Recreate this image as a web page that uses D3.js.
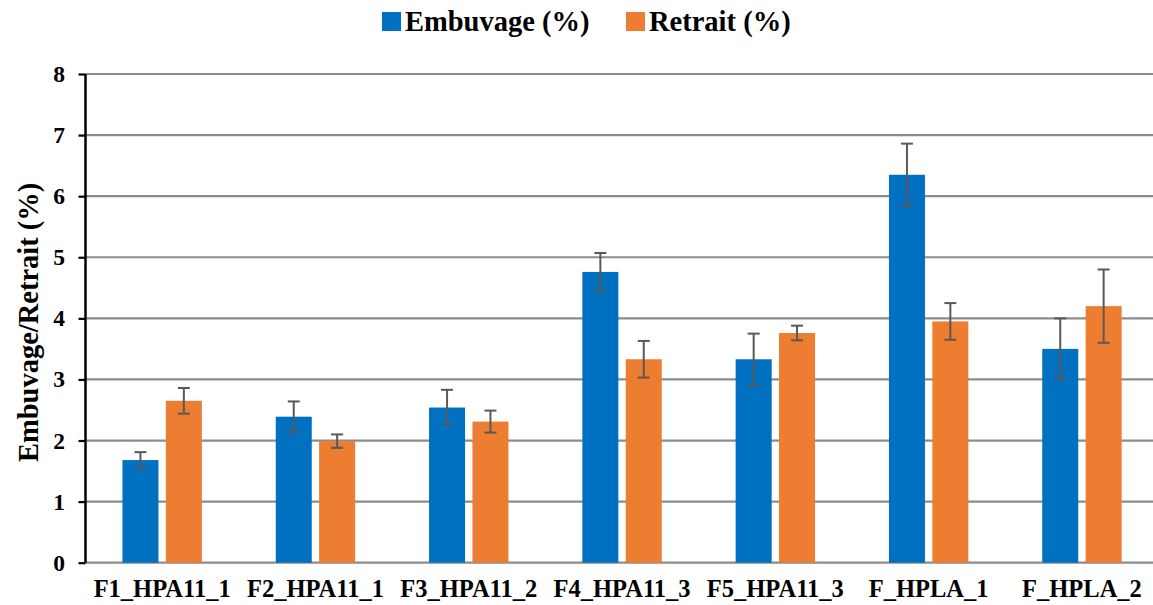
<!DOCTYPE html>
<html><head><meta charset="utf-8">
<script src="https://cdn.jsdelivr.net/npm/d3@7"></script>
<style>body{margin:0;background:#fff;}svg{display:block;}</style>
</head><body><svg id="c" width="1153" height="605"></svg>
<script>
const categories = ["F1_HPA11_1","F2_HPA11_1","F3_HPA11_2","F4_HPA11_3","F5_HPA11_3","F_HPLA_1","F_HPLA_2"];
const embuvage = [1.68, 2.39, 2.54, 4.76, 3.33, 6.35, 3.50];
const embuvageErr = [0.13, 0.25, 0.29, 0.31, 0.42, 0.51, 0.50];
const retrait = [2.65, 1.99, 2.31, 3.33, 3.76, 3.95, 4.20];
const retraitErr = [0.21, 0.11, 0.18, 0.30, 0.12, 0.30, 0.60];
const seriesNames = ["Embuvage (%)", "Retrait (%)"];
const colors = ["#0070C0", "#ED7D31"];
const yTicks = [0,1,2,3,4,5,6,7,8];

const FONT = "Liberation Serif";
const svg = d3.select("#c");
const mLeft = 85.5, mTop = 74, mBottom = 562.7;
const band = 153.3;
const x = d3.scaleBand().domain(categories).range([mLeft, mLeft + band*categories.length]).paddingInner(0.482).paddingOuter(0.241);
const xs = d3.scaleBand().domain([0,1]).range([0, x.bandwidth()]).paddingInner(0.17);
const y = d3.scaleLinear().domain([0,8]).range([mBottom, mTop]);

// gridlines
svg.append("g").selectAll("line").data(yTicks).join("line")
  .attr("x1", mLeft).attr("x2", 1153)
  .attr("y1", d => y(d)).attr("y2", d => y(d))
  .attr("stroke", "#8c8c8c").attr("stroke-width", 2.2);

const data = [
  {vals: embuvage, errs: embuvageErr},
  {vals: retrait, errs: retraitErr}
];
data.forEach((s, si) => {
  const g = svg.append("g");
  g.selectAll("rect").data(categories).join("rect")
    .attr("x", c => x(c) + xs(si))
    .attr("width", xs.bandwidth())
    .attr("y", (c,i) => y(s.vals[i]))
    .attr("height", (c,i) => y(0) - y(s.vals[i]))
    .attr("fill", colors[si]);
});
data.forEach((s, si) => {
  const g = svg.append("g").attr("stroke", "#595959").attr("stroke-width", 2);
  categories.forEach((c,i) => {
    const cx = x(c) + xs(si) + xs.bandwidth()/2;
    const t = y(s.vals[i] + s.errs[i]), b = y(s.vals[i] - s.errs[i]);
    g.append("line").attr("x1", cx).attr("x2", cx).attr("y1", t).attr("y2", b);
    g.append("line").attr("x1", cx-6).attr("x2", cx+6).attr("y1", t).attr("y2", t);
    g.append("line").attr("x1", cx-6).attr("x2", cx+6).attr("y1", b).attr("y2", b);
  });
});

// y axis
const yAxis = svg.append("g").attr("transform", `translate(${mLeft},0)`)
  .call(d3.axisLeft(y).tickValues(yTicks).tickSize(7).tickPadding(13.5).tickFormat(d3.format("d")));
yAxis.select(".domain").attr("stroke", "#000").attr("stroke-width", 2.5).attr("d", `M0,${y(8)}V${y(0)}`);
yAxis.selectAll(".tick line").attr("stroke", "#000").attr("stroke-width", 2.2);
yAxis.selectAll("text").attr("font-size", 23.5).attr("fill", "#000")
  .style("font-family", FONT).style("font-weight", "bold");

// x axis labels
const xAxis = svg.append("g").attr("transform", `translate(0,${mBottom})`)
  .call(d3.axisBottom(x).tickSize(0).tickPadding(17));
xAxis.select(".domain").remove();
xAxis.selectAll("text").attr("font-size", 24.5).attr("fill", "#000")
  .style("font-family", FONT).style("font-weight", "bold");

// y title
svg.append("text").attr("transform", `translate(38,${(mTop+mBottom)/2 + 4}) rotate(-90)`)
  .attr("text-anchor", "middle").attr("font-size", 28.5)
  .style("font-family", FONT).style("font-weight", "bold").text("Embuvage/Retrait (%)");

// legend
const legX = [382, 626];
seriesNames.forEach((n, i) => {
  svg.append("rect").attr("x", legX[i]).attr("y", 12).attr("width", 19).attr("height", 19).attr("fill", colors[i]);
  svg.append("text").attr("x", legX[i] + 23).attr("y", 31).attr("font-size", 28.5)
    .style("font-family", FONT).style("font-weight", "bold").text(n);
});
</script></body></html>
